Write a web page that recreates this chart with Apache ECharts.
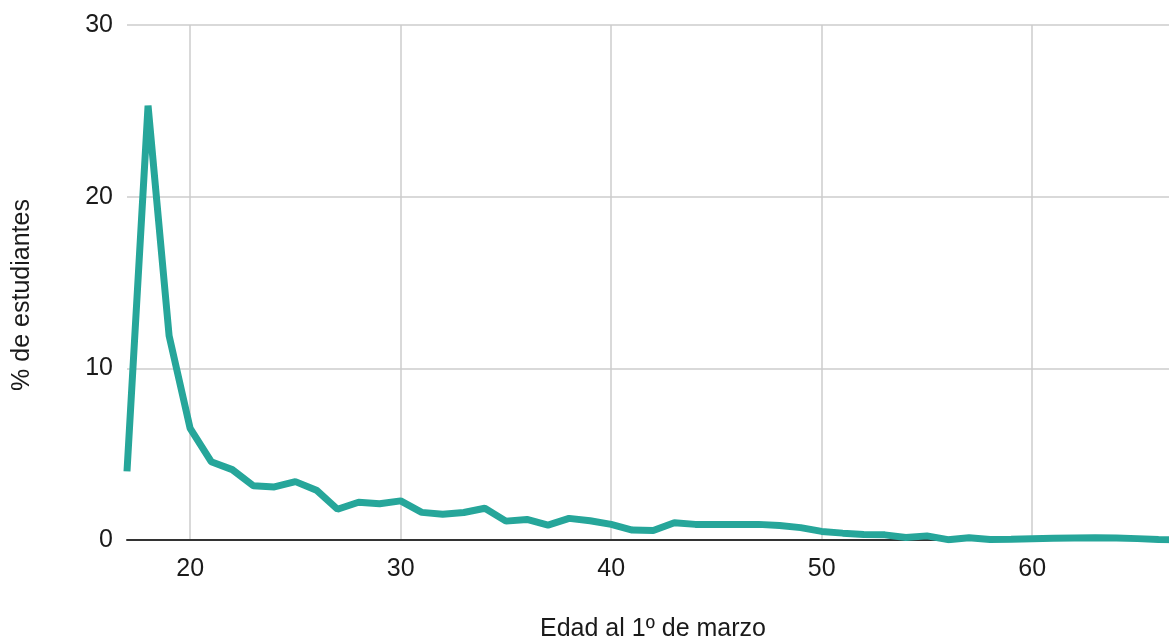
<!DOCTYPE html>
<html>
<head>
<meta charset="utf-8">
<style>
  html, body { margin: 0; padding: 0; background: #fff; }
  #chart { width: 1169px; height: 638px; }
</style>
<script src="https://cdn.jsdelivr.net/npm/echarts@6/dist/echarts.min.js"></script>
</head>
<body>
<div id="chart"></div>
<script>
// Edad (años) y % de estudiantes
const ages = [17, 18, 19, 20, 21, 22, 23, 24, 25, 26, 27, 28, 29, 30, 31, 32, 33, 34, 35, 36, 37, 38, 39, 40, 41, 42,
  43, 44, 45, 46, 47, 48, 49, 50, 51, 52, 53, 54, 55, 56, 57, 58, 59, 60, 61, 62, 63, 64, 65, 66, 67];
const pct = [4.0, 25.3, 11.9, 6.5, 4.56, 4.1, 3.16, 3.09, 3.4, 2.9, 1.79, 2.2, 2.11, 2.28, 1.61, 1.5, 1.6, 1.85, 1.1, 1.2,
  0.87, 1.26, 1.12, 0.91, 0.58, 0.55, 1.01, 0.91, 0.91, 0.91, 0.91, 0.84, 0.72, 0.5, 0.4, 0.32, 0.3, 0.15, 0.24, 0.02,
  0.13, 0.03, 0.05, 0.08, 0.1, 0.12, 0.13, 0.12, 0.08, 0.03, 0];
const yTicks = [0, 10, 20, 30];

const font = 'Arial, "Liberation Sans", sans-serif';
const textColor = '#1a1a1a';
const chart = echarts.init(document.getElementById('chart'));

chart.setOption({
  animation: false,
  grid: { left: 127, right: 0, top: 25, bottom: 98, containLabel: false, outerBoundsMode: 'none' },
  xAxis: {
    type: 'value',
    min: 17,
    max: 66.5,
    name: 'Edad al 1º de marzo',
    nameLocation: 'middle',
    nameGap: 77,
    nameTextStyle: { fontFamily: font, fontSize: 25, color: textColor, padding: [0, 0, 0, 10] },
    axisLine: { show: true, onZero: false, lineStyle: { color: '#333', width: 2 } },
    axisTick: { show: false },
    axisLabel: { fontFamily: font, fontSize: 25, color: textColor, margin: 17, showMinLabel: false, showMaxLabel: false },
    splitLine: { show: true, showMinLine: false, showMaxLine: false, lineStyle: { color: '#ccc', width: 1.5 } }
  },
  yAxis: {
    type: 'value',
    min: yTicks[0],
    max: yTicks[yTicks.length - 1],
    interval: 10,
    name: '% de estudiantes',
    nameLocation: 'middle',
    nameGap: 92,
    nameTextStyle: { fontFamily: font, fontSize: 25, color: textColor, padding: [0, 25, 0, 0] },
    axisLine: { show: false },
    axisTick: { show: false },
    axisLabel: { fontFamily: font, fontSize: 25, color: textColor, margin: 14 },
    splitLine: { show: true, lineStyle: { color: '#ccc', width: 1.5 } }
  },
  series: [{
    type: 'line',
    data: ages.map((a, i) => [a, pct[i]]),
    showSymbol: false,
    symbol: 'none',
    lineStyle: { color: '#26a69a', width: 7 },
    itemStyle: { color: '#26a69a' }
  }]
});
</script>
</body>
</html>
